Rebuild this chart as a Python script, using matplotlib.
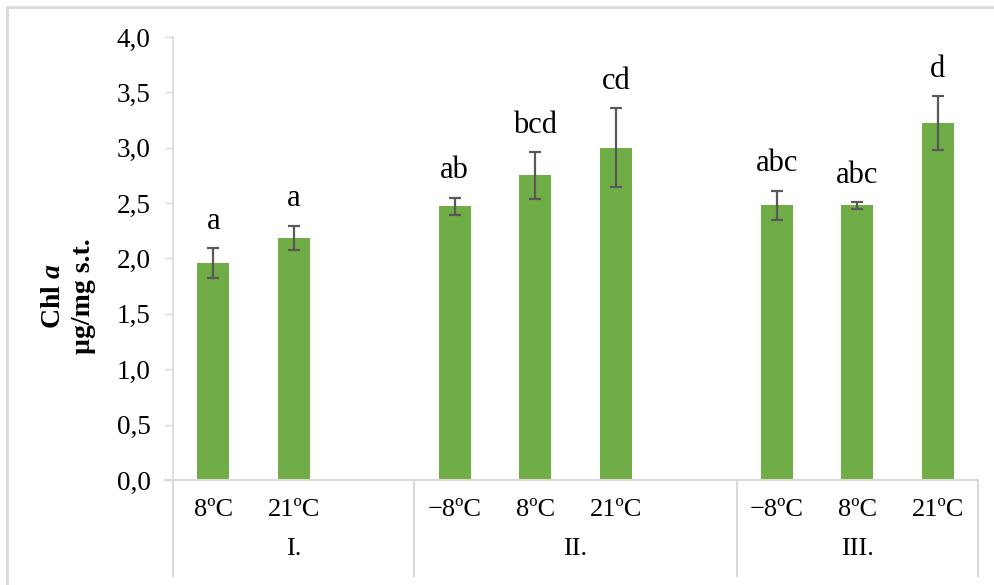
import numpy as np
import matplotlib
matplotlib.use('Agg')
import matplotlib.pyplot as plt
from matplotlib.ticker import FuncFormatter
from matplotlib.lines import Line2D

plt.rcParams['font.family'] = ['Liberation Serif', 'DejaVu Serif']
plt.rcParams['mathtext.fontset'] = 'custom'
plt.rcParams['mathtext.rm'] = 'Liberation Serif'
plt.rcParams['mathtext.bf'] = 'Liberation Serif:bold'
plt.rcParams['mathtext.it'] = 'Liberation Serif:italic'
plt.rcParams['mathtext.bfit'] = 'Liberation Serif:italic:bold'

# data (empty strings are the blank slots Excel left in the category axis)
groups = ['I.', 'II.', 'III.']
temps_I = ['8ºC', '21ºC', '']
temps_II = ['−8ºC', '8ºC', '21ºC', '']
temps_III = ['−8ºC', '8ºC', '21ºC']
chl_I = [1.96, 2.185, np.nan]
chl_II = [2.47, 2.75, 3.00, np.nan]
chl_III = [2.48, 2.48, 3.22]
err_I = [0.135, 0.11, np.nan]
err_II = [0.08, 0.21, 0.355, np.nan]
err_III = [0.13, 0.03, 0.245]
sig_I = ['a', 'a', '']
sig_II = ['ab', 'bcd', 'cd', '']
sig_III = ['abc', 'abc', 'd']

temps = [temps_I, temps_II, temps_III]
labels = temps_I + temps_II + temps_III
values = np.array(chl_I + chl_II + chl_III)
errors = np.array(err_I + err_II + err_III)
letters = sig_I + sig_II + sig_III
x = np.arange(len(labels))

green = '#70AD47'
grid_grey = '#D9D9D9'
err_grey = '#595959'

fig = plt.figure(figsize=(9.94, 5.85), dpi=100)
ax = fig.add_axes([0.174, 0.1795, 0.81, 0.7573])

ax.bar(x, values, width=0.4, color=green, zorder=2)
ax.errorbar(x, values, yerr=errors, fmt='none', ecolor=err_grey,
            elinewidth=1.6, capsize=4.5, capthick=1.6, zorder=3)

for xi, v, e, t in zip(x, values, errors, letters):
    if t:
        ax.annotate(t, (xi, v + e), xytext=(0, 14), textcoords='offset points',
                    ha='center', va='baseline', fontsize=22)

ax.set_xlim(-0.5, len(labels) - 0.5)
ax.set_ylim(0, 4.0)
ax.set_yticks(np.arange(0, 4.01, 0.5))
ax.yaxis.set_major_formatter(FuncFormatter(lambda v, p: f'{v:.1f}'.replace('.', ',')))
ax.tick_params(axis='y', labelsize=19.5, length=6, width=1, color=grid_grey, pad=10)
ax.set_xticks([])

for s in ['top', 'right', 'bottom']:
    ax.spines[s].set_visible(False)
ax.spines['left'].set_color(grid_grey)
ax.spines['left'].set_linewidth(1.2)

# x axis line (slightly extended to the left like Excel)
ax.add_line(Line2D([-0.6, len(labels) - 0.5], [0, 0], transform=ax.transData,
                   color=grid_grey, lw=1.5, clip_on=False))

# hierarchical category axis
trans = ax.get_xaxis_transform()
for xi, lab in zip(x, labels):
    ax.text(xi, -0.068, lab, transform=trans, ha='center', va='center', fontsize=19)

start = -0.5
bounds = [start]
for g, t in zip(groups, temps):
    end = start + len(t)
    ax.text((start + end) / 2, -0.155, g, transform=trans, ha='center', va='center',
            fontsize=19)
    bounds.append(end)
    start = end
for b in bounds:
    ax.add_line(Line2D([b, b], [0, -0.216], transform=trans, color=grid_grey,
                       lw=1.5, clip_on=False))

fig.text(0.069, 0.494, 'Chl $\\mathbfit{a}$\nµg/mg s.t.', rotation=90, ha='center',
         va='center', fontsize=20, fontweight='bold', multialignment='center',
         linespacing=1.25)

# chart border
fig.add_artist(Line2D([7 / 994, 7 / 994, 1], [0, 1 - 7 / 585, 1 - 7 / 585],
                      transform=fig.transFigure, color=grid_grey, lw=2))

fig.savefig('out.png', dpi=100)
